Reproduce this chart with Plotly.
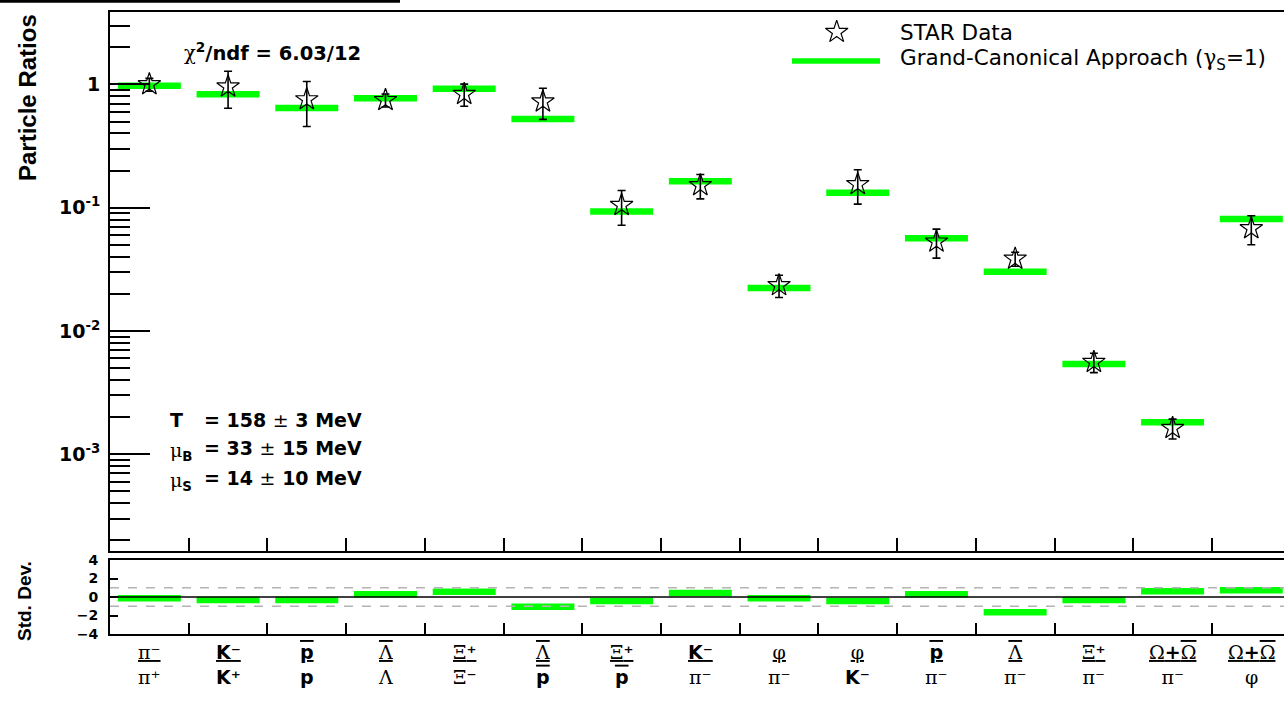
import plotly.graph_objects as go

W, H = 1284, 701

def G(s):
    return f'<span style="font-family:DejaVu Serif;font-weight:normal">{s}</span>'

def OL(s):
    return f'<span style="text-decoration:overline">{s}</span>'

# ---------------- data ----------------
label_num = [
    G('π⁻'), 'K⁻', OL('p'), OL(G('Λ')), G('Ξ') + '⁺',
    OL(G('Λ')), G('Ξ') + '⁺', 'K⁻', G('φ'), G('φ'),
    OL('p'), OL(G('Λ')), G('Ξ') + '⁺', G('Ω') + '+' + OL(G('Ω')), G('Ω') + '+' + OL(G('Ω')),
]
label_den = [
    G('π⁺'), 'K⁺', 'p', G('Λ'), G('Ξ') + '⁻',
    OL('p'), OL('p'), G('π⁻'), G('π⁻'), 'K⁻',
    G('π⁻'), G('π⁻'), G('π⁻'), G('π⁻'), G('φ'),
]
data_vals = [1.00, 0.96, 0.755, 0.745, 0.835, 0.725, 0.105, 0.152, 0.0235, 0.155,
             0.053, 0.0385, 0.0056, 0.00163, 0.068]
data_errs = [0.12, 0.32, 0.30, 0.09, 0.17, 0.205, 0.033, 0.034, 0.0048, 0.048,
             0.014, 0.005, 0.0010, 0.0003, 0.018]
model_vals = [0.974, 0.833, 0.644, 0.771, 0.921, 0.524, 0.093, 0.1637, 0.0223, 0.1324,
              0.0565, 0.0303, 0.0054, 0.00182, 0.081]
std_devs = [-0.14, -0.32, -0.32, 0.30, 0.57, -1.05, -0.43, 0.43, -0.14, -0.43,
            0.30, -1.64, -0.32, 0.62, 0.72]
top_tickvals = [1e-3, 1e-2, 1e-1, 1]
top_ticktext = ['10<sup>-3</sup>', '10<sup>-2</sup>', '10<sup>-1</sup>', '1']
bot_tickvals = [-4, -2, 0, 2, 4]

n = len(data_vals)
centers = [i + 0.5 for i in range(n)]

def px(x):
    return x / W

def py(y):
    return 1 - y / H

GREEN = '#00ff00'
FONT = 'DejaVu Sans'

fig = go.Figure()

# model bars (top)
mx, my = [], []
for i, v in enumerate(model_vals):
    mx += [i + 0.1, i + 0.9, None]
    my += [v, v, None]
fig.add_trace(go.Scatter(x=mx, y=my, mode='lines', line=dict(color=GREEN, width=6.5),
                         xaxis='x', yaxis='y', hoverinfo='skip', showlegend=False))

# data points
fig.add_trace(go.Scatter(
    x=centers, y=data_vals, mode='markers',
    marker=dict(symbol='star-open', size=17, color='black', line=dict(width=1.2, color='black')),
    error_y=dict(type='data', array=data_errs, visible=True, color='black', thickness=1.6, width=4),
    xaxis='x', yaxis='y', showlegend=False))

# empty trace so that the minor-tick overlay axis is drawn
fig.add_trace(go.Scatter(x=[None], y=[None], xaxis='x', yaxis='y4', showlegend=False,
                         hoverinfo='skip'))

# std dev bars (bottom)
sx, sy = [], []
for i, v in enumerate(std_devs):
    sx += [i + 0.1, i + 0.9, None]
    sy += [v, v, None]
fig.add_trace(go.Scatter(x=sx, y=sy, mode='lines', line=dict(color=GREEN, width=6.5),
                         xaxis='x2', yaxis='y2', hoverinfo='skip', showlegend=False))

# legend star (aux axes, transparent)
fig.add_trace(go.Scatter(x=[px(836.7)], y=[py(32)], mode='markers',
                         marker=dict(symbol='star-open', size=17, color='black', line=dict(width=1.2, color='black')),
                         xaxis='x3', yaxis='y3', showlegend=False, hoverinfo='skip'))

xr = [0, (W - 110) / 78.71]
top_dom = [py(551), py(12)]
bot_dom = [py(634), py(560)]
xdom = [px(110), 1]
yr_top = [-3.7843, 0.5872]

minor_vals = [k * 10 ** d for d in range(-4, 1) for k in range(2, 10)]

axis_common = dict(showgrid=False, zeroline=False, showline=True, linecolor='black', linewidth=2,
                   automargin=False)

fig.update_layout(
    width=W, height=H, margin=dict(l=0, r=0, t=0, b=0, pad=0, autoexpand=False),
    paper_bgcolor='white', plot_bgcolor='rgba(0,0,0,0)', showlegend=False,
    xaxis=dict(domain=xdom, range=xr, anchor='y', mirror=True, ticks='inside',
               tickvals=list(range(1, n)), ticklen=13, tickwidth=1.5, tickcolor='black',
               showticklabels=False, **axis_common),
    yaxis=dict(domain=top_dom, type='log', range=yr_top, anchor='x',
               ticks='inside', ticklen=40, tickwidth=1.5, tickcolor='black',
               tickvals=top_tickvals, ticktext=top_ticktext, ticklabelstandoff=4,
               tickfont=dict(family=FONT, size=19, color='black', weight='bold'),
               **axis_common),
    yaxis4=dict(overlaying='y', type='log', range=yr_top, anchor='x', side='left',
                ticks='inside', ticklen=20, tickwidth=1.5, tickcolor='black',
                tickvals=minor_vals, showticklabels=False, showgrid=False, zeroline=False,
                showline=False, automargin=False),
    xaxis2=dict(domain=xdom, range=xr, anchor='y2', mirror=True, ticks='inside',
                tickvals=list(range(1, n)), ticklen=11, tickwidth=1.5, tickcolor='black',
                showticklabels=False, **axis_common),
    yaxis2=dict(domain=bot_dom, range=[-4, 4], anchor='x2', ticks='inside', ticklen=8,
                tickwidth=1.5, tickcolor='black', tickvals=bot_tickvals, ticklabelstandoff=7,
                tickfont=dict(family=FONT, size=14, color='black', weight='bold'),
                **axis_common),
    xaxis3=dict(domain=[0, 1], range=[0, 1], visible=False, anchor='y3', automargin=False),
    yaxis3=dict(domain=[0, 1], range=[0, 1], visible=False, anchor='x3', automargin=False),
)

shapes = [
    dict(type='line', xref='x2 domain', yref='y2', x0=0, x1=1, y0=1, y1=1,
         line=dict(color='#b4b4b4', width=1.5, dash='dash')),
    dict(type='line', xref='x2 domain', yref='y2', x0=0, x1=1, y0=-1, y1=-1,
         line=dict(color='#b4b4b4', width=1.5, dash='dash')),
    dict(type='line', xref='x2 domain', yref='y2', x0=0, x1=1, y0=0, y1=0,
         line=dict(color='black', width=1.5)),
    # legend green key
    dict(type='line', xref='paper', yref='paper', x0=px(792), x1=px(880), y0=py(61), y1=py(61),
         line=dict(color=GREEN, width=5.5)),
    # black line at top-left
    dict(type='line', xref='paper', yref='paper', x0=0, x1=px(400), y0=py(1.3), y1=py(1.3),
         line=dict(color='black', width=3)),
]
fig.update_layout(shapes=shapes)

ann = []
def add_text(text, x, y, size, xanchor='left', yanchor='middle', family=FONT, weight='bold', angle=0):
    ann.append(dict(text=text, x=px(x), y=py(y), xref='paper', yref='paper', showarrow=False,
                    xanchor=xanchor, yanchor=yanchor, textangle=angle,
                    font=dict(family=family, size=size, color='black', weight=weight)))

add_text(G('χ') + '<sup>2</sup>/ndf = 6.03/12', 182, 52, 19.5)
add_text('T', 168, 420, 19)
add_text(G('μ') + '<sub>B</sub>', 168, 451, 19)
add_text(G('μ') + '<sub>S</sub>', 168, 481, 19)
add_text('= 158 ' + G('±') + ' 3 MeV', 202, 420, 19)
add_text('= 33 ' + G('±') + ' 15 MeV', 202, 448, 19)
add_text('= 14 ' + G('±') + ' 10 MeV', 202, 478, 19)
add_text('STAR Data', 898, 33, 21.5, weight='normal')
add_text('Grand-Canonical Approach (' + G('γ') + '<sub>S</sub>=1)', 898, 59, 21.5, weight='normal')
add_text('Particle Ratios', 27, 98, 24, xanchor='center', family='Liberation Sans', angle=-90)
add_text('Std. Dev.', 24, 601, 19, xanchor='center', family='Liberation Sans', angle=-90)

for i in range(n):
    ann.append(dict(text=f'<u>{label_num[i]}</u><br>{label_den[i]}', x=centers[i], xref='x2',
                    y=py(639), yref='paper', yanchor='top', xanchor='center', showarrow=False,
                    align='center', font=dict(family=FONT, size=19, color='black', weight='bold')))

fig.update_layout(annotations=ann)

fig.write_html('out.html')
